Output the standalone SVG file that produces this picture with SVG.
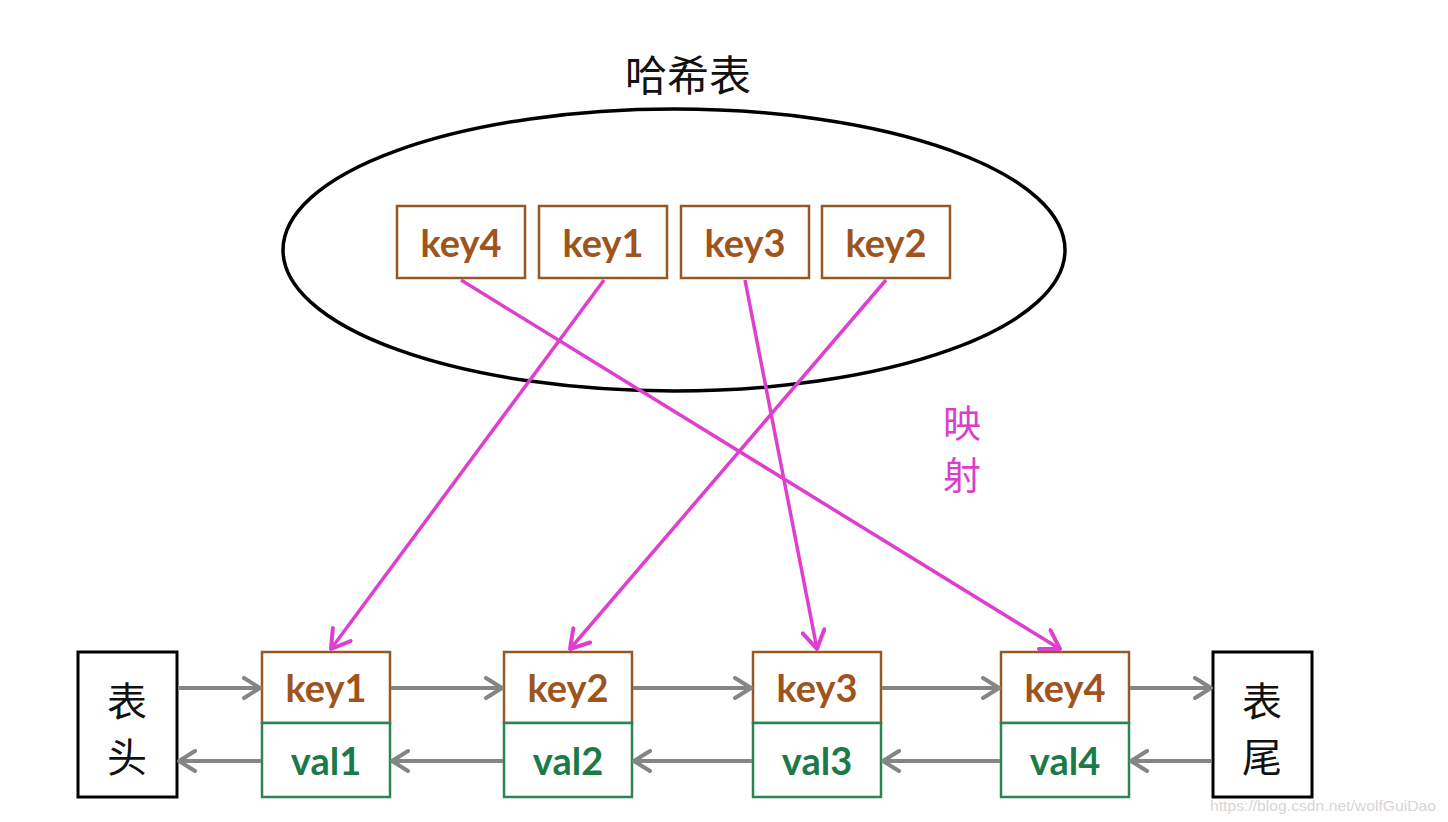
<svg xmlns="http://www.w3.org/2000/svg" width="1448" height="822" viewBox="0 0 1448 822">
<defs>
<style>
.cjk{font-family:"Noto Sans CJK SC","Noto Sans",sans-serif;text-anchor:middle}
.lbl{font-family:Lato,"Open Sans",sans-serif;font-weight:bold;font-size:38px;text-anchor:middle}
.key{fill:#9e541c}
.val{fill:#1b7a48}
.kbox{fill:#fff;stroke:#945a26;stroke-width:2.5}
.vbox{fill:#fff;stroke:#2a8553;stroke-width:2.5}
.end{fill:#fff;stroke:#000;stroke-width:3}
.gray{stroke:#858585;stroke-width:4;fill:none;marker-end:url(#ga)}
.mag{stroke:#df3fcf;stroke-width:3.5;fill:none;marker-end:url(#ma)}
</style>
<marker id="ga" markerUnits="userSpaceOnUse" viewBox="0 0 20 24" refX="18" refY="12" markerWidth="20" markerHeight="24" orient="auto">
<path d="M2,2 L18,12 L2,22" fill="none" stroke="#858585" stroke-width="4" stroke-linecap="round" stroke-linejoin="round"/>
</marker>
<marker id="ma" markerUnits="userSpaceOnUse" viewBox="0 0 22 26" refX="20" refY="13" markerWidth="22" markerHeight="26" orient="auto">
<path d="M2,2 L20,13 L2,24" fill="none" stroke="#df3fcf" stroke-width="4" stroke-linecap="round" stroke-linejoin="round"/>
</marker>
</defs>
<rect width="1448" height="822" fill="#fff"/>

<g id="hashtable">
<ellipse cx="674" cy="250" rx="391" ry="141" fill="none" stroke="#000" stroke-width="3.5"/>
<text class="cjk" x="688" y="91" font-size="42" fill="#111">哈希表</text>
</g>

<g id="hkey4"><rect class="kbox" x="397" y="206" width="128" height="72"/><text class="lbl key" x="461" y="257">key4</text></g>
<g id="hkey1"><rect class="kbox" x="539" y="206" width="128" height="72"/><text class="lbl key" x="603" y="257">key1</text></g>
<g id="hkey3"><rect class="kbox" x="681" y="206" width="128" height="72"/><text class="lbl key" x="745" y="257">key3</text></g>
<g id="hkey2"><rect class="kbox" x="822" y="206" width="128" height="72"/><text class="lbl key" x="886" y="257">key2</text></g>

<g id="map-label">
<text class="cjk" x="962" y="437" font-size="38" fill="#d83fcb">映</text>
<text class="cjk" x="962" y="489" font-size="38" fill="#d83fcb">射</text>
</g>

<g id="head"><rect class="end" x="78" y="652" width="99" height="145"/>
<text class="cjk" x="127" y="716" font-size="40" fill="#111">表</text>
<text class="cjk" x="127" y="772" font-size="40" fill="#111">头</text></g>

<g id="node1"><rect class="kbox" x="262" y="652" width="128" height="71"/><rect class="vbox" x="262" y="723" width="128" height="74"/>
<text class="lbl key" x="326" y="702">key1</text><text class="lbl val" x="326" y="775">val1</text></g>
<g id="node2"><rect class="kbox" x="504" y="652" width="128" height="71"/><rect class="vbox" x="504" y="723" width="128" height="74"/>
<text class="lbl key" x="568" y="702">key2</text><text class="lbl val" x="568" y="775">val2</text></g>
<g id="node3"><rect class="kbox" x="753" y="652" width="128" height="71"/><rect class="vbox" x="753" y="723" width="128" height="74"/>
<text class="lbl key" x="817" y="702">key3</text><text class="lbl val" x="817" y="775">val3</text></g>
<g id="node4"><rect class="kbox" x="1001" y="652" width="128" height="71"/><rect class="vbox" x="1001" y="723" width="128" height="74"/>
<text class="lbl key" x="1065" y="702">key4</text><text class="lbl val" x="1065" y="775">val4</text></g>

<g id="tail"><rect class="end" x="1213" y="652" width="99" height="145"/>
<text class="cjk" x="1262" y="716" font-size="40" fill="#111">表</text>
<text class="cjk" x="1262" y="772" font-size="40" fill="#111">尾</text></g>

<g id="connectors">
<line class="gray" x1="178" y1="688" x2="260" y2="688"/>
<line class="gray" x1="391" y1="688" x2="502" y2="688"/>
<line class="gray" x1="633" y1="688" x2="751" y2="688"/>
<line class="gray" x1="882" y1="688" x2="999" y2="688"/>
<line class="gray" x1="1130" y1="688" x2="1211" y2="688"/>
<line class="gray" x1="261" y1="761" x2="179" y2="761"/>
<line class="gray" x1="503" y1="761" x2="392" y2="761"/>
<line class="gray" x1="752" y1="761" x2="634" y2="761"/>
<line class="gray" x1="1000" y1="761" x2="883" y2="761"/>
<line class="gray" x1="1212" y1="761" x2="1131" y2="761"/>
<line class="mag" x1="461" y1="280" x2="1060" y2="649"/>
<line class="mag" x1="604" y1="280" x2="331" y2="649"/>
<line class="mag" x1="745" y1="280" x2="817" y2="649"/>
<line class="mag" x1="886" y1="280" x2="570" y2="649"/>
</g>

<text x="1210" y="811" font-family="Liberation Sans,Arial,sans-serif" font-size="15" textLength="226" lengthAdjust="spacingAndGlyphs" fill="#d6d6d6">https://blog.csdn.net/wolfGuiDao</text>
</svg>
